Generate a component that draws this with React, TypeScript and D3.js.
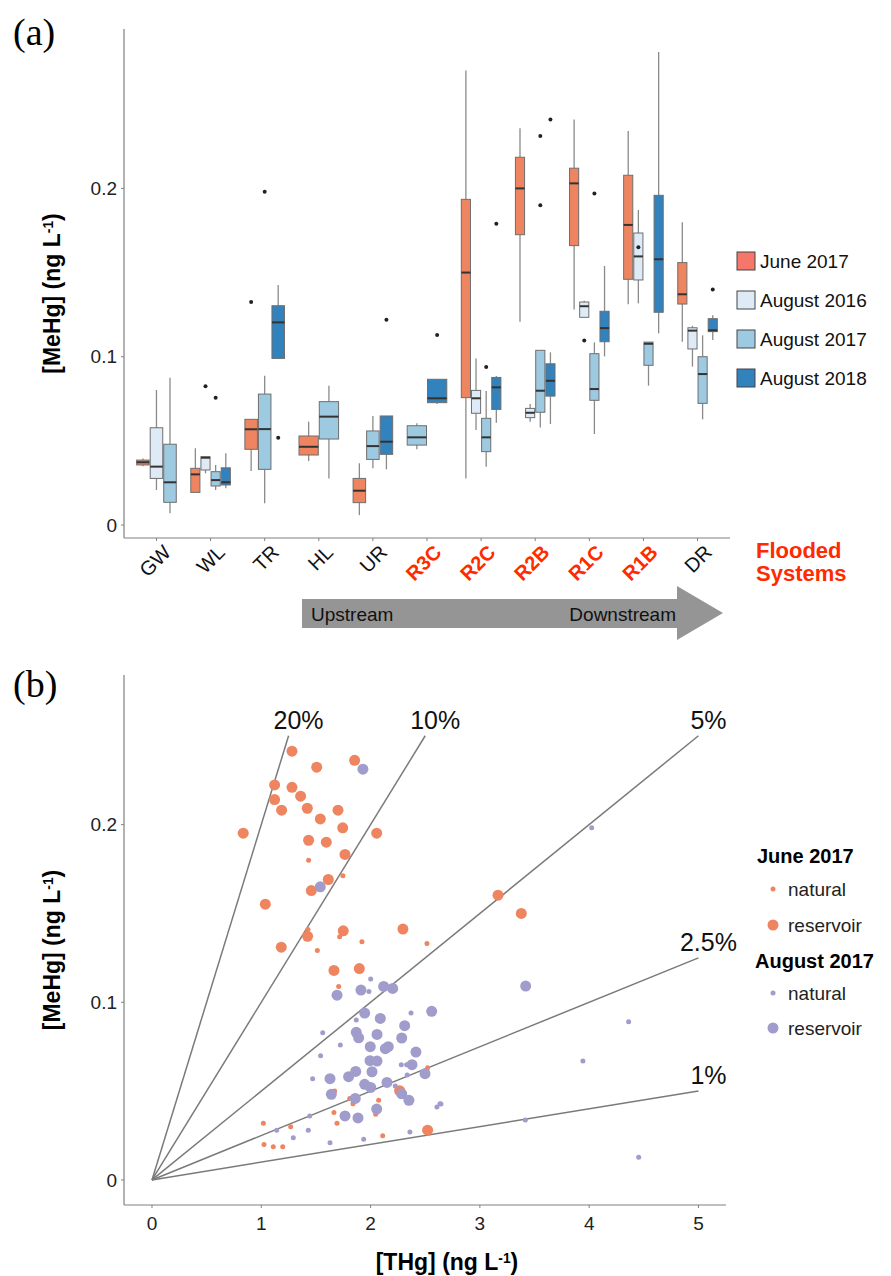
import * as React from "react";
import * as d3 from "d3";

// ---- panel (a) data ----
const sites = ["GW", "WL", "TR", "HL", "UR", "R3C", "R2C", "R2B", "R1C", "R1B", "DR"];
const floodedSites = ["R3C", "R2C", "R2B", "R1C", "R1B"];
const seasons = ["June 2017", "August 2016", "August 2017", "August 2018"];
const boxFill = ["#ee8560", "#deebf7", "#9ecae1", "#3282bd"];
const legendFill = ["#f6766b", "#deebf7", "#9ecae1", "#3282bd"];

// [site, season, lower whisker, q1, median, q3, upper whisker]
const boxStats: [string, string, number, number, number, number, number][] = [
  ["GW", "June 2017", 0.035, 0.0357, 0.0373, 0.0386, 0.0396],
  ["GW", "August 2016", 0.0208, 0.0277, 0.0347, 0.0578, 0.0802],
  ["GW", "August 2017", 0.007, 0.0135, 0.0254, 0.048, 0.0875],
  ["WL", "June 2017", 0.0194, 0.0194, 0.0301, 0.0337, 0.0456],
  ["WL", "August 2016", 0.0307, 0.0327, 0.04, 0.0406, 0.0406],
  ["WL", "August 2017", 0.0208, 0.0232, 0.0267, 0.0317, 0.0357],
  ["WL", "August 2018", 0.0218, 0.0238, 0.0254, 0.034, 0.0426],
  ["TR", "June 2017", 0.0321, 0.045, 0.0569, 0.0628, 0.0628],
  ["TR", "August 2017", 0.0129, 0.0331, 0.057, 0.0778, 0.0887],
  ["TR", "August 2018", 0.099, 0.099, 0.1204, 0.1303, 0.1426],
  ["HL", "June 2017", 0.038, 0.0416, 0.0465, 0.0529, 0.0614],
  ["HL", "August 2017", 0.0277, 0.0511, 0.0644, 0.0733, 0.0828],
  ["UR", "June 2017", 0.0059, 0.0133, 0.0204, 0.0277, 0.0367],
  ["UR", "August 2017", 0.0337, 0.039, 0.0469, 0.0559, 0.0648],
  ["UR", "August 2018", 0.0331, 0.042, 0.0495, 0.0648, 0.0648],
  ["R3C", "August 2017", 0.045, 0.0475, 0.0521, 0.059, 0.0604],
  ["R3C", "August 2018", 0.0719, 0.0727, 0.0753, 0.0866, 0.0866],
  ["R2C", "June 2017", 0.0277, 0.0757, 0.15, 0.1935, 0.27],
  ["R2C", "August 2016", 0.0564, 0.0664, 0.0753, 0.08, 0.099],
  ["R2C", "August 2017", 0.0347, 0.0436, 0.0521, 0.0634, 0.0796],
  ["R2C", "August 2018", 0.0608, 0.0687, 0.0818, 0.0877, 0.0885],
  ["R2B", "June 2017", 0.1208, 0.1725, 0.2, 0.2185, 0.2357],
  ["R2B", "August 2016", 0.0614, 0.0638, 0.0667, 0.0693, 0.0719],
  ["R2B", "August 2017", 0.058, 0.067, 0.0798, 0.1038, 0.1038],
  ["R2B", "August 2018", 0.06, 0.0766, 0.0857, 0.0958, 0.1026],
  ["R1C", "June 2017", 0.128, 0.166, 0.203, 0.212, 0.241],
  ["R1C", "August 2016", 0.1234, 0.1234, 0.13, 0.1325, 0.1333],
  ["R1C", "August 2017", 0.0541, 0.0741, 0.0808, 0.1018, 0.1085],
  ["R1C", "August 2018", 0.1002, 0.1089, 0.117, 0.127, 0.1539],
  ["R1B", "June 2017", 0.1311, 0.146, 0.1783, 0.2078, 0.2341],
  ["R1B", "August 2016", 0.1317, 0.1456, 0.1596, 0.1735, 0.1872],
  ["R1B", "August 2017", 0.0828, 0.0949, 0.1077, 0.1087, 0.1087],
  ["R1B", "August 2018", 0.1139, 0.1264, 0.1579, 0.1959, 0.281],
  ["DR", "June 2017", 0.1089, 0.1313, 0.1371, 0.1559, 0.1799],
  ["DR", "August 2016", 0.0941, 0.1046, 0.1155, 0.1172, 0.1184],
  ["DR", "August 2017", 0.0628, 0.0723, 0.0897, 0.1, 0.1127],
  ["DR", "August 2018", 0.1099, 0.1149, 0.1157, 0.1226, 0.1246],
];

// [site, season, value]
const boxOutliers: [string, string, number][] = [
  ["WL", "August 2016", 0.0824],
  ["WL", "August 2017", 0.0756],
  ["TR", "June 2017", 0.1325],
  ["TR", "August 2017", 0.198],
  ["TR", "August 2018", 0.0519],
  ["UR", "August 2018", 0.122],
  ["R3C", "August 2018", 0.1129],
  ["R2C", "August 2017", 0.0939],
  ["R2C", "August 2018", 0.179],
  ["R2B", "August 2017", 0.2311],
  ["R2B", "August 2017", 0.19],
  ["R2B", "August 2018", 0.241],
  ["R1C", "August 2016", 0.1097],
  ["R1C", "August 2017", 0.1969],
  ["R1B", "August 2016", 0.165],
  ["DR", "August 2018", 0.14],
];

const yTicksA = [0, 0.1, 0.2];

// ---- panel (b) data: [THg, MeHg] ----
const juneReservoir = [
  [1.281, 0.2413], [1.854, 0.2362], [1.507, 0.2323], [1.122, 0.2223], [1.281, 0.221],
  [1.36, 0.216], [1.122, 0.2141], [1.186, 0.2081], [1.421, 0.2092], [1.702, 0.2081],
  [1.54, 0.2032], [1.745, 0.1982], [0.835, 0.1952], [2.056, 0.1952], [1.433, 0.1912],
  [1.595, 0.1901], [1.766, 0.1832], [1.613, 0.1691], [1.458, 0.1629], [1.037, 0.1552],
  [2.296, 0.1412], [1.75, 0.1402], [1.424, 0.1371], [1.183, 0.131], [3.166, 0.1603],
  [3.379, 0.15], [1.665, 0.1179], [1.897, 0.119], [2.266, 0.0502], [2.522, 0.028],
];
const juneNatural = [
  [1.433, 0.18], [1.747, 0.1712], [1.427, 0.141], [1.717, 0.1369], [1.921, 0.134],
  [2.516, 0.1331], [1.513, 0.1292], [1.708, 0.1089], [1.842, 0.0619], [2.522, 0.0632],
  [1.671, 0.05], [1.809, 0.0459], [1.839, 0.0429], [2.074, 0.0448], [2.047, 0.037],
  [1.665, 0.0379], [1.693, 0.0319], [1.019, 0.0319], [1.269, 0.03], [2.111, 0.0249],
  [1.025, 0.0199], [1.11, 0.0187], [1.196, 0.0187],
];
const augReservoir = [
  [1.93, 0.2312], [1.54, 0.165], [3.419, 0.1091], [2.12, 0.1089], [2.202, 0.1078],
  [1.912, 0.1069], [1.693, 0.104], [1.946, 0.0939], [2.559, 0.0949], [2.089, 0.0909],
  [2.312, 0.0868], [1.869, 0.0831], [2.059, 0.0819], [1.891, 0.08], [2.285, 0.0799],
  [1.997, 0.075], [2.162, 0.075], [2.135, 0.0739], [2.415, 0.072], [1.995, 0.0671],
  [2.059, 0.0669], [2.379, 0.0649], [1.864, 0.0611], [2.013, 0.0609], [1.799, 0.0581],
  [1.629, 0.057], [2.498, 0.0598], [2.15, 0.0549], [1.946, 0.0538], [2.001, 0.0521],
  [1.641, 0.0482], [2.285, 0.0485], [1.86, 0.0459], [2.351, 0.0448], [2.056, 0.0399],
  [1.766, 0.036], [1.885, 0.0349],
];
const augNatural = [
  [4.023, 0.1982], [4.361, 0.089], [3.943, 0.0669], [2.644, 0.0427], [3.416, 0.0337],
  [4.453, 0.0128], [2.001, 0.1131], [1.985, 0.1061], [2.37, 0.0939], [1.869, 0.09],
  [1.562, 0.0829], [1.723, 0.0759], [1.543, 0.0699], [2.281, 0.0649], [2.33, 0.0649],
  [2.335, 0.059], [1.47, 0.057], [2.226, 0.0529], [2.635, 0.0429], [2.607, 0.0411],
  [1.443, 0.036], [1.141, 0.028], [1.43, 0.028], [2.36, 0.027], [1.293, 0.0238],
  [1.937, 0.0229], [1.629, 0.021],
];

// ratio lines MeHg/THg, each drawn from origin to its end THg
const ratioLabels = ["20%", "10%", "5%", "2.5%", "1%"];
const ratioValues = [0.2, 0.1, 0.05, 0.025, 0.01];
const ratioEndX = [1.25, 2.5, 5, 5, 5];

const xTicksB = [0, 1, 2, 3, 4, 5];
const yTicksB = [0, 0.1, 0.2];

const FONT = "'Liberation Sans', Arial, Helvetica, sans-serif";
const SERIF = "'Liberation Serif', 'Times New Roman', serif";
const ORANGE = "#ee8560";
const PURPLE = "#a09ccb";
const RED = "#ff2a00";
const AXIS = "#808080";

function Unit() {
  return (
    <>
      (ng L<tspan baselineShift="super" fontSize="0.6em">-1</tspan>)
    </>
  );
}

function PanelA() {
  const left = 124, right = 730, top = 29, bottom = 538;
  const x = d3.scaleBand().domain(sites).range([left, right]).paddingInner(0).paddingOuter(0.1);
  const y = d3.scaleLinear().domain([-0.0077, 0.2947]).range([bottom, top]);
  const groupW = x.step() * 0.75;

  // dodge: the group width is shared by the seasons sampled at that site
  const boxPos = (site: string, season: string) => {
    const here = seasons.filter((s) => boxStats.some((b) => b[0] === site && b[1] === s));
    const w = groupW / here.length;
    const i = here.indexOf(season);
    const x0 = (x(site) as number) + x.bandwidth() / 2 - groupW / 2 + i * w;
    return { x0, w, cx: x0 + w / 2 };
  };

  return (
    <g>
      <text x={13} y={45} fontFamily={SERIF} fontSize={38}>(a)</text>
      <line x1={left} x2={left} y1={top} y2={bottom} stroke={AXIS} strokeWidth={1.2} />
      <line x1={left} x2={right} y1={bottom} y2={bottom} stroke={AXIS} strokeWidth={1.2} />
      {yTicksA.map((t) => (
        <g key={t} transform={`translate(${left}, ${y(t)})`}>
          <line x1={-3} x2={0} stroke={AXIS} />
          <text x={-7} dy="0.35em" textAnchor="end" fontFamily={FONT} fontSize={19} fill="#222">
            {d3.format("~g")(t)}
          </text>
        </g>
      ))}
      {sites.map((s) => {
        const cx = (x(s) as number) + x.bandwidth() / 2;
        const flooded = floodedSites.includes(s);
        return (
          <g key={s}>
            <line x1={cx} x2={cx} y1={bottom} y2={bottom + 3} stroke={AXIS} />
            <text
              transform={`translate(${cx + 5}, ${bottom + 5}) rotate(-45)`}
              textAnchor="end"
              dy="0.75em"
              fontFamily={FONT}
              fontSize={20}
              fontWeight={flooded ? "bold" : "normal"}
              fill={flooded ? RED : "#111"}
            >
              {s}
            </text>
          </g>
        );
      })}
      <text
        transform={`translate(60, ${(top + bottom) / 2 + 10}) rotate(-90)`}
        textAnchor="middle"
        fontFamily={FONT}
        fontSize={23}
        fontWeight="bold"
      >
        [MeHg] <Unit />
      </text>

      {boxStats.map((b, i) => {
        const [site, season, lo, q1, med, q3, hi] = b;
        const { x0, w, cx } = boxPos(site, season);
        const fill = boxFill[seasons.indexOf(season)];
        return (
          <g key={i}>
            <line x1={cx} x2={cx} y1={y(hi)} y2={y(q3)} stroke="#8a8a8a" strokeWidth={1.3} />
            <line x1={cx} x2={cx} y1={y(q1)} y2={y(lo)} stroke="#8a8a8a" strokeWidth={1.3} />
            <rect x={x0 + 0.5} y={y(q3)} width={w - 1} height={Math.max(1, y(q1) - y(q3))} fill={fill} stroke="#6e6e6e" strokeWidth={1} />
            <line x1={x0 + 0.5} x2={x0 + w - 0.5} y1={y(med)} y2={y(med)} stroke="#333" strokeWidth={2} />
          </g>
        );
      })}
      {boxOutliers.map((o, i) => {
        const { cx } = boxPos(o[0], o[1]);
        return <circle key={i} cx={cx} cy={y(o[2])} r={2} fill="#222" />;
      })}

      {seasons.map((s, i) => (
        <g key={s} transform={`translate(737, ${252 + i * 39})`}>
          <rect width={18} height={18} fill={legendFill[i]} stroke="#444" strokeWidth={1} />
          <text x={23} y={9} dy="0.35em" fontFamily={FONT} fontSize={19} fill="#111">{s}</text>
        </g>
      ))}

      <text x={756} y={558} fontFamily={FONT} fontSize={22} fontWeight="bold" fill={RED}>Flooded</text>
      <text x={756} y={581} fontFamily={FONT} fontSize={22} fontWeight="bold" fill={RED}>Systems</text>

      <path d="M302,599 L677,599 L677,586 L723,613 L677,640 L677,628 L302,628 Z" fill="#959595" />
      <text x={311} y={621} fontFamily={FONT} fontSize={19} fill="#111">Upstream</text>
      <text x={676} y={621} textAnchor="end" fontFamily={FONT} fontSize={19} fill="#111">Downstream</text>
    </g>
  );
}

function PanelB() {
  const left = 124, right = 726, top = 675, bottom = 1205;
  const x = d3.scaleLinear().domain([-0.256, 5.252]).range([left, right]);
  const y = d3.scaleLinear().domain([-0.0141, 0.2842]).range([bottom, top]);
  const line = d3.line<number[]>().x((d) => x(d[0])).y((d) => y(d[1]));

  const dots = (data: number[][], r: number, color: string, key: string) =>
    data.map((d, i) => <circle key={key + i} cx={x(d[0])} cy={y(d[1])} r={r} fill={color} />);

  return (
    <g>
      <text x={13} y={697} fontFamily={SERIF} fontSize={38}>(b)</text>
      <line x1={left} x2={left} y1={top} y2={bottom} stroke={AXIS} strokeWidth={1.2} />
      <line x1={left} x2={right} y1={bottom} y2={bottom} stroke={AXIS} strokeWidth={1.2} />
      {yTicksB.map((t) => (
        <g key={t} transform={`translate(${left}, ${y(t)})`}>
          <line x1={-3} x2={0} stroke={AXIS} />
          <text x={-7} dy="0.35em" textAnchor="end" fontFamily={FONT} fontSize={19} fill="#222">
            {d3.format("~g")(t)}
          </text>
        </g>
      ))}
      {xTicksB.map((t) => (
        <g key={t} transform={`translate(${x(t)}, ${bottom})`}>
          <line y1={0} y2={3} stroke={AXIS} />
          <text y={18} dy="0.35em" textAnchor="middle" fontFamily={FONT} fontSize={19} fill="#222">{t}</text>
        </g>
      ))}
      <text
        transform={`translate(60, ${(top + bottom) / 2 + 10}) rotate(-90)`}
        textAnchor="middle"
        fontFamily={FONT}
        fontSize={23}
        fontWeight="bold"
      >
        [MeHg] <Unit />
      </text>
      <text x={447} y={1270} textAnchor="middle" fontFamily={FONT} fontSize={23} fontWeight="bold">
        [THg] <Unit />
      </text>

      {ratioValues.map((r, i) => {
        const ex = ratioEndX[i];
        return (
          <g key={r}>
            <path d={line([[0, 0], [ex, ex * r]]) as string} stroke="#7a7a7a" strokeWidth={1.5} fill="none" />
            <text x={x(ex) + 10} y={y(ex * r) - 7} textAnchor="middle" fontFamily={FONT} fontSize={25} fill="#111">
              {ratioLabels[i]}
            </text>
          </g>
        );
      })}

      {dots(juneNatural, 2.5, ORANGE, "jn")}
      {dots(juneReservoir, 5.5, ORANGE, "jr")}
      {dots(augNatural, 2.5, PURPLE, "an")}
      {dots(augReservoir, 5.5, PURPLE, "ar")}

      <g fontFamily={FONT}>
        <text x={757} y={863} fontSize={20} fontWeight="bold">June 2017</text>
        <circle cx={773} cy={889} r={2.5} fill={ORANGE} />
        <text x={788} y={889} dy="0.35em" fontSize={19} fill="#222">natural</text>
        <circle cx={773} cy={925} r={5.5} fill={ORANGE} />
        <text x={788} y={925} dy="0.35em" fontSize={19} fill="#222">reservoir</text>
        <text x={755} y={968} fontSize={20} fontWeight="bold">August 2017</text>
        <circle cx={773} cy={993} r={2.5} fill={PURPLE} />
        <text x={788} y={993} dy="0.35em" fontSize={19} fill="#222">natural</text>
        <circle cx={773} cy={1028} r={5.5} fill={PURPLE} />
        <text x={788} y={1028} dy="0.35em" fontSize={19} fill="#222">reservoir</text>
      </g>
    </g>
  );
}

export default function App() {
  return (
    <svg width={891} height={1276} style={{ position: "absolute", left: 0, top: 0, background: "#fff" }}>
      <PanelA />
      <PanelB />
    </svg>
  );
}
